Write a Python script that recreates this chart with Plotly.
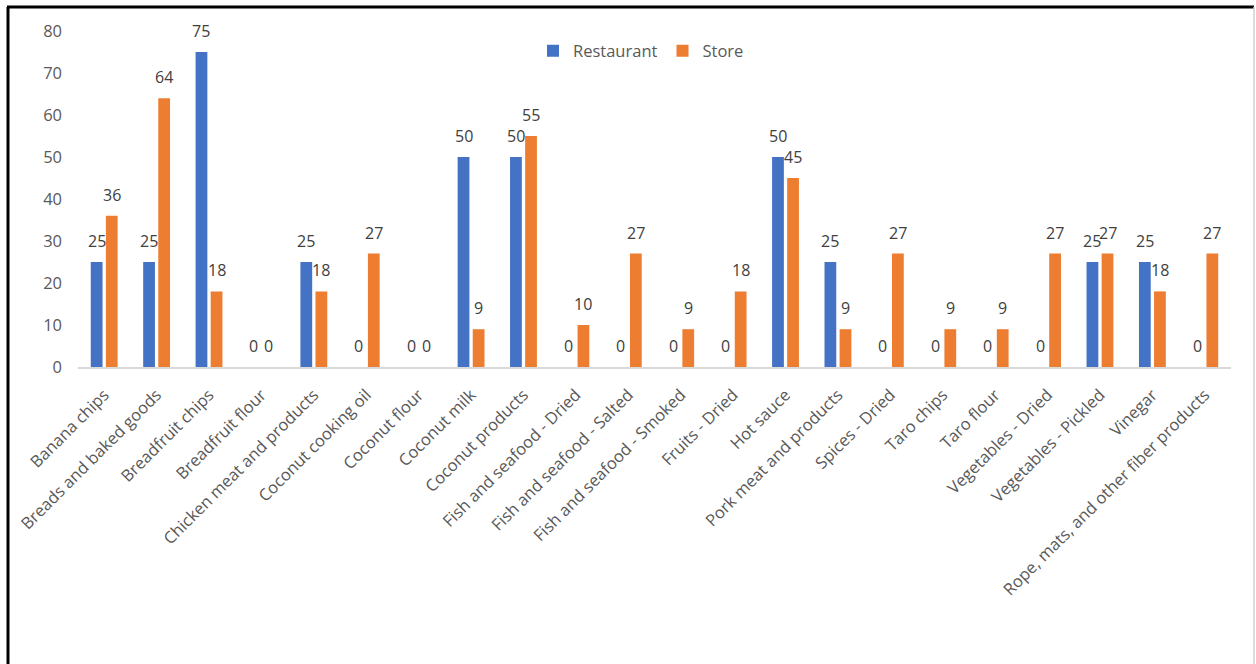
import plotly.graph_objects as go

categories = ["Banana chips", "Breads and baked goods", "Breadfruit chips", "Breadfruit flour",
              "Chicken meat and products", "Coconut cooking oil", "Coconut flour", "Coconut milk",
              "Coconut products", "Fish and seafood - Dried", "Fish and seafood - Salted",
              "Fish and seafood - Smoked", "Fruits - Dried", "Hot sauce", "Pork meat and products",
              "Spices - Dried", "Taro chips", "Taro flour", "Vegetables - Dried",
              "Vegetables - Pickled", "Vinegar", "Rope, mats, and other fiber products"]
restaurant = [25, 25, 75, 0, 25, 0, 0, 50, 50, 0, 0, 0, 0, 50, 25, 0, 0, 0, 0, 25, 25, 0]
store = [36, 64, 18, 0, 18, 27, 0, 9, 55, 10, 27, 9, 18, 45, 9, 27, 9, 9, 27, 27, 18, 27]

FONT = "Open Sans"
BAR_GAP = 0.424
GROUP_GAP = 0.22

W, H = 1256, 664
L, R, T, B = 78, 1231, 31, 367
pw, ph = R - L, B - T

def px(x):
    return (x - L) / pw

def py(y):
    return (B - y) / ph

fig = go.Figure()
fig.add_trace(go.Bar(name="Restaurant", x=categories, y=restaurant, marker_color="#4472C4"))
fig.add_trace(go.Bar(name="Store", x=categories, y=store, marker_color="#ED7D31"))

# data labels placed above each bar
cw = pw / len(categories)
slot = cw * (1 - BAR_GAP) / 2
annotations = []
for vals, sign in ((restaurant, -1), (store, 1)):
    for c, v in zip(categories, vals):
        annotations.append(dict(x=c, y=v, xref="x", yref="y", text=str(v), showarrow=False,
                                xanchor="center", yanchor="bottom", xshift=sign * slot / 2,
                                yshift=8, font=dict(size=16, color="#404040", family=FONT)))

fig.update_layout(
    width=W, height=H,
    margin=dict(l=L, r=W - R, t=T, b=H - B),
    paper_bgcolor="white", plot_bgcolor="white",
    barmode="group", bargap=BAR_GAP, bargroupgap=GROUP_GAP,
    font=dict(family=FONT, color="#595959"),
    legend=dict(orientation="h", x=px(641), y=py(51), xanchor="center", yanchor="middle",
                font=dict(size=16.5, color="#595959", family=FONT), bgcolor="rgba(0,0,0,0)",
                itemwidth=30),
    xaxis=dict(tickangle=-45, tickfont=dict(size=16.5, color="#595959", family=FONT),
               showline=True, linecolor="#D9D9D9", linewidth=1.5, showgrid=False, ticks="",
               ticklabelstandoff=10),
    yaxis=dict(range=[0, 80], dtick=10, showgrid=False, zeroline=False,
               tickfont=dict(size=16.5, color="#595959", family=FONT), ticks="",
               ticklabelstandoff=15),
    annotations=annotations,
    shapes=[
        dict(type="line", xref="paper", yref="paper", x0=px(8), x1=px(8), y0=py(7), y1=py(700),
             line=dict(color="black", width=3)),
        dict(type="line", xref="paper", yref="paper", x0=px(7), x1=px(1254), y0=py(7), y1=py(7),
             line=dict(color="black", width=3)),
        dict(type="line", xref="paper", yref="paper", x0=px(1254), x1=px(1254), y0=py(7), y1=py(700),
             line=dict(color="#D0D0D0", width=1.5)),
    ],
)
fig.update_traces(marker_line_width=0)
fig.write_html("out.html")
